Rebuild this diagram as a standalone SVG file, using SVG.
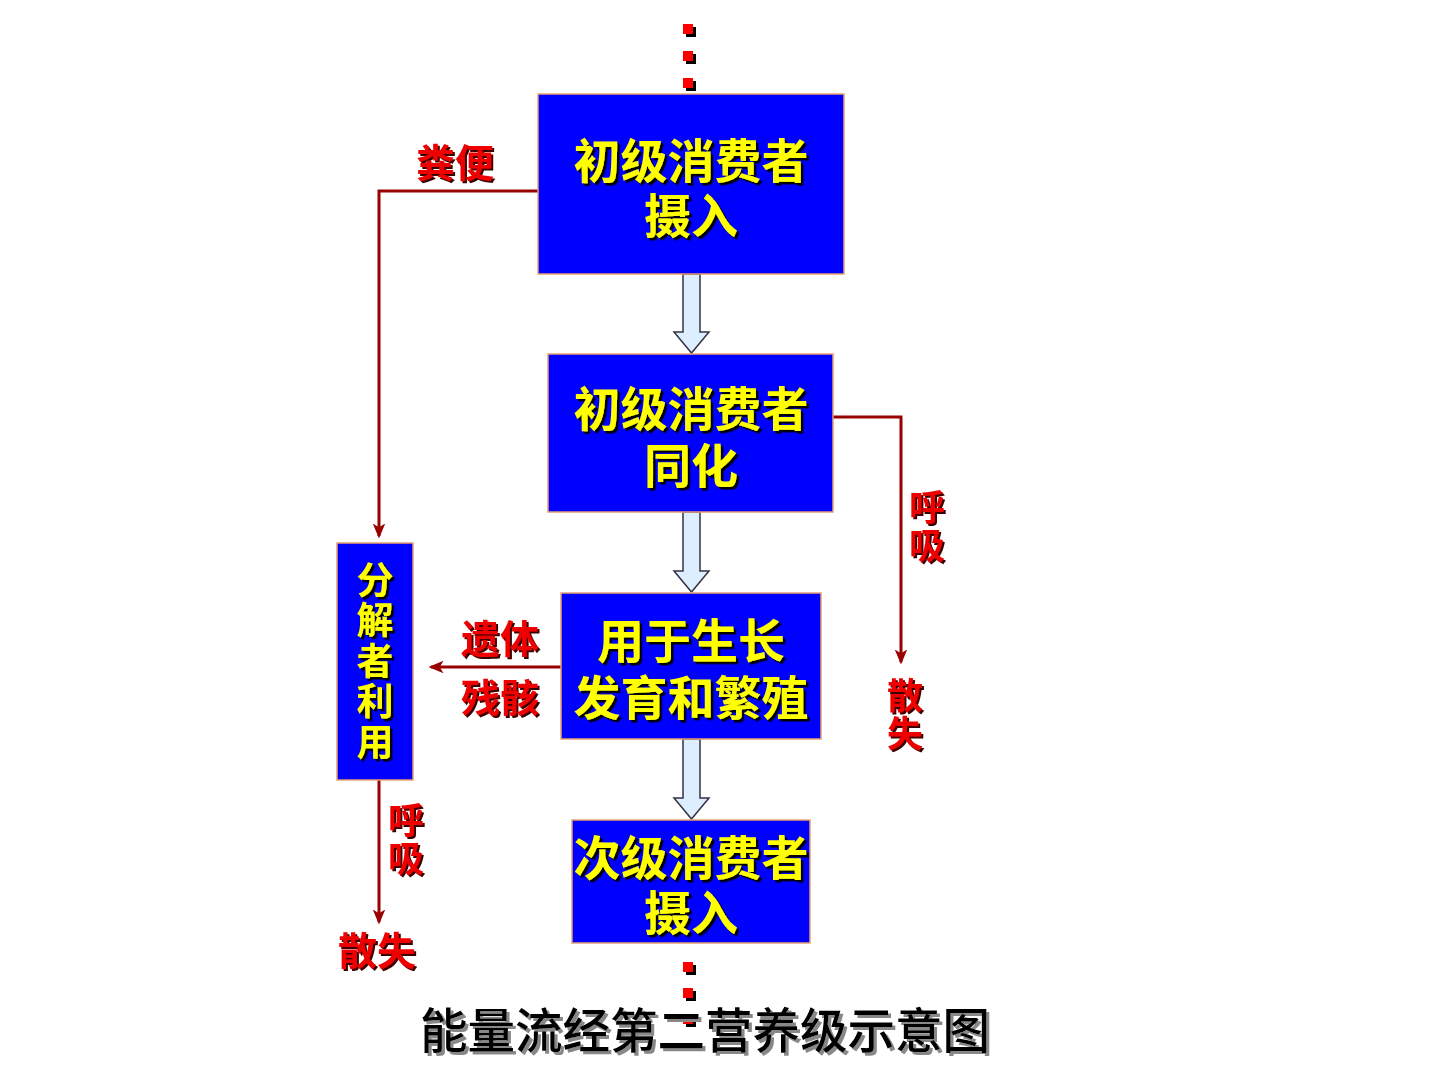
<svg xmlns="http://www.w3.org/2000/svg" width="1440" height="1080" viewBox="0 0 1440 1080">
  <defs>
    <style>
      .box { fill: #0000FF; stroke: #E8A070; stroke-width: 1.5; }
      .yt { font-family: "Noto Sans CJK SC", sans-serif; font-weight: 700; font-size: 47px; fill: #FFFF00; text-anchor: middle; filter: url(#shadowDark); }
      .yv { font-family: "Noto Sans CJK SC", sans-serif; font-weight: 700; font-size: 37px; fill: #FFFF00; writing-mode: vertical-rl; letter-spacing: 3.5px; filter: url(#shadowDark); }
      .rt { font-family: "Noto Sans CJK SC", sans-serif; font-weight: 700; font-size: 39px; fill: #EE0000; text-anchor: middle; filter: url(#shadowRed); }
      .rv { font-family: "Noto Sans CJK SC", sans-serif; font-weight: 700; font-size: 36px; fill: #EE0000; writing-mode: vertical-rl; letter-spacing: 2px; filter: url(#shadowRed); }
      .flow { fill: none; stroke: #990000; stroke-width: 3; }
      .hollow { fill: #DDEEFF; stroke: #333344; stroke-width: 1.5; }
      .dot { fill: #FF0000; }
      .dotsh { fill: #000000; }
      .title { font-family: "Noto Sans CJK SC", sans-serif; font-weight: 500; font-size: 47.5px; fill: #000000; text-anchor: middle; filter: url(#shadowGrey); }
    </style>
    <filter id="shadowDark" x="-10%" y="-10%" width="130%" height="130%">
      <feDropShadow dx="2.5" dy="2.5" stdDeviation="0.4" flood-color="#000000" flood-opacity="1"/>
    </filter>
    <filter id="shadowRed" x="-10%" y="-10%" width="130%" height="130%">
      <feDropShadow dx="2" dy="2" stdDeviation="0.4" flood-color="#3A0000" flood-opacity="1"/>
    </filter>
    <filter id="shadowGrey" x="-10%" y="-10%" width="130%" height="130%">
      <feDropShadow dx="3" dy="3" stdDeviation="0.5" flood-color="#888888" flood-opacity="1"/>
    </filter>
    <marker id="redHead" markerWidth="15" markerHeight="15" refX="10" refY="5" orient="auto" markerUnits="userSpaceOnUse" viewBox="0 0 12 10">
      <path d="M0,0 L12,5 L0,10 L3,5 Z" fill="#990000"/>
    </marker>
    <g id="sq">
      <rect class="dotsh" x="3" y="3" width="10" height="10"/>
      <rect class="dot" x="0" y="0" width="10" height="10"/>
    </g>
  </defs>

  <rect width="1440" height="1080" fill="#FFFFFF"/>

  <!-- dotted lead-in from the producer level -->
  <g id="dots-top">
    <use href="#sq" x="683" y="24"/>
    <use href="#sq" x="683" y="51"/>
    <use href="#sq" x="683" y="78"/>
  </g>

  <g id="connectors">
    <!-- hollow flow arrows down the main chain -->
    <path class="hollow" d="M683,274 L700,274 L700,332 L709,332 L691.5,353 L674,332 L683,332 Z"/>
    <path class="hollow" d="M683,512 L700,512 L700,571 L709,571 L691.5,592 L674,571 L683,571 Z"/>
    <path class="hollow" d="M683,739 L700,739 L700,798 L709,798 L691.5,819 L674,798 L683,798 Z"/>
    <!-- faeces to decomposers -->
    <path class="flow" d="M538,191 L379,191 L379,536" marker-end="url(#redHead)"/>
    <!-- respiration loss -->
    <path class="flow" d="M833,417 L901,417 L901,662" marker-end="url(#redHead)"/>
    <!-- remains to decomposers -->
    <path class="flow" d="M561,667 L431,667" marker-end="url(#redHead)"/>
    <!-- decomposer respiration -->
    <path class="flow" d="M379,780 L379,922" marker-end="url(#redHead)"/>
  </g>

  <g id="node-intake">
    <rect class="box" x="538" y="94" width="306" height="180"/>
    <text class="yt" x="691" y="178">初级消费者</text>
    <text class="yt" x="691" y="233">摄入</text>
  </g>

  <g id="node-assimilation">
    <rect class="box" x="548" y="354" width="285" height="158"/>
    <text class="yt" x="691" y="426">初级消费者</text>
    <text class="yt" x="691" y="483">同化</text>
  </g>

  <g id="node-growth">
    <rect class="box" x="561" y="593" width="260" height="146"/>
    <text class="yt" x="691" y="658">用于生长</text>
    <text class="yt" x="691" y="715">发育和繁殖</text>
  </g>

  <g id="node-secondary">
    <rect class="box" x="572" y="820" width="238" height="123"/>
    <text class="yt" x="691" y="875">次级消费者</text>
    <text class="yt" x="691" y="930">摄入</text>
  </g>

  <g id="node-decomposer">
    <rect class="box" x="337" y="543" width="76" height="237"/>
    <!-- vertical text, top to bottom -->
    <text class="yv" x="375" y="561">分解者利用</text>
  </g>

  <!-- red flow labels -->
  <g id="label-faeces">
    <text class="rt" x="455" y="177">粪便</text>
  </g>
  <g id="label-remains">
    <text class="rt" x="500" y="653">遗体</text>
    <text class="rt" x="500" y="712">残骸</text>
  </g>
  <g id="label-resp-right">
    <text class="rv" x="927" y="489">呼吸</text>
    <text class="rv" x="905" y="677">散失</text>
  </g>
  <g id="label-resp-left">
    <text class="rv" x="406" y="802">呼吸</text>
    <text class="rt" x="377" y="965">散失</text>
  </g>

  <!-- dotted lead-out to the next level -->
  <g id="dots-bottom">
    <use href="#sq" x="683" y="962"/>
    <use href="#sq" x="683" y="988"/>
    <use href="#sq" x="683" y="1014"/>
  </g>

  <g id="title">
    <text class="title" x="705" y="1048">能量流经第二营养级示意图</text>
  </g>
</svg>
